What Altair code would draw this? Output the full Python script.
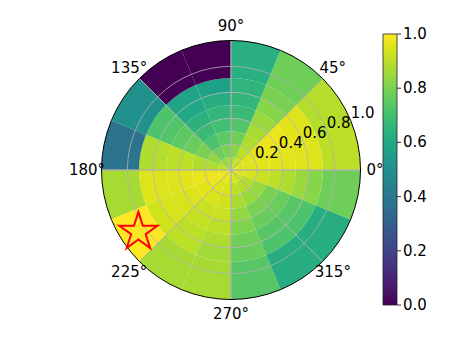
import math
import altair as alt
import pandas as pd

# ---- data ----
theta_edges = [0.0, 22.5, 45.0, 67.5, 90.0, 112.5, 135.0, 157.5, 180.0,
               202.5, 225.0, 247.5, 270.0, 292.5, 315.0, 337.5, 360.0]
r_edges = [0.0, 0.1, 0.2, 0.3, 0.4, 0.5, 0.6, 0.71, 1.0]

# values per ring (inner -> outer), 16 sectors counter-clockwise from 0 deg
ring_1 = [0.94, 0.94, 0.92, 0.88, 0.86, 0.84, 0.88, 0.90, 0.97, 0.98, 0.96, 0.95, 0.94, 0.93, 0.93, 0.95]
ring_2 = [0.95, 0.95, 0.90, 0.82, 0.80, 0.78, 0.84, 0.88, 0.97, 0.97, 0.95, 0.94, 0.90, 0.89, 0.89, 0.94]
ring_3 = [0.96, 0.96, 0.88, 0.78, 0.75, 0.72, 0.80, 0.88, 0.97, 0.96, 0.94, 0.93, 0.87, 0.85, 0.85, 0.92]
ring_4 = [0.96, 0.97, 0.87, 0.73, 0.70, 0.68, 0.77, 0.90, 0.96, 0.95, 0.92, 0.92, 0.84, 0.80, 0.80, 0.90]
ring_5 = [0.96, 0.97, 0.85, 0.68, 0.66, 0.64, 0.75, 0.90, 0.95, 0.94, 0.91, 0.90, 0.81, 0.77, 0.77, 0.88]
ring_6 = [0.95, 0.96, 0.82, 0.66, 0.62, 0.60, 0.73, 0.89, 0.95, 0.94, 0.90, 0.88, 0.78, 0.74, 0.74, 0.85]
ring_7 = [0.95, 0.95, 0.80, 0.65, 0.57, 0.58, 0.72, 0.88, 0.95, 0.93, 0.90, 0.86, 0.77, 0.72, 0.72, 0.82]
ring_8 = [0.90, 0.89, 0.78, 0.63, 0.00, 0.00, 0.50, 0.38, 0.87, 1.00, 0.87, 0.87, 0.74, 0.62, 0.62, 0.78]
rings = [ring_1, ring_2, ring_3, ring_4, ring_5, ring_6, ring_7, ring_8]

grid_r = [0.2, 0.4, 0.6, 0.8]
spine_r = [1.0]
spoke_deg = [0, 45, 90, 135, 180, 225, 270, 315]
angle_labels = ["0°", "45°", "90°", "135°", "180°", "225°", "270°", "315°"]
r_tick_values = [0.2, 0.4, 0.6, 0.8, 1.0]
r_tick_labels = ["0.2", "0.4", "0.6", "0.8", "1.0"]
r_label_deg = 22.5
cbar_ticks = [0.0, 0.2, 0.4, 0.6, 0.8, 1.0]
cbar_labels = ["0.0", "0.2", "0.4", "0.6", "0.8", "1.0"]
star_deg = [213.75]
star_r = [0.86]

# ---- tables ----
rows = []
for j, ring in enumerate(rings):
    for i, v in enumerate(ring):
        rows.append({"t0": theta_edges[i], "t1": theta_edges[i + 1],
                     "r0": r_edges[j], "r1": r_edges[j + 1], "v": v})
cells = pd.DataFrame(rows)

CX, CY, R = 223, 162, 129.5
LABEL_R = 1.112
FONT = "DejaVu Sans"
CB_X, CB_TOP, CB_LEN, CB_W = 375, 26, 271, 14

theta_scale = alt.Scale(domain=[0, 360], range=[2.5 * math.pi, 0.5 * math.pi])
radius_scale = alt.Scale(type="linear", domain=[0, 1], range=[0, R])
color_scale = alt.Scale(type="linear", scheme="viridis", domain=[0, 1])
cb_scale = alt.Scale(domain=[0, 1], range=[CB_TOP + CB_LEN, CB_TOP])
center = {"x": alt.value(CX), "y": alt.value(CY)}

cell_layer = alt.Chart(cells).mark_arc(strokeWidth=0).encode(
    theta=alt.Theta("t0:Q", scale=theta_scale, stack=False),
    theta2="t1:Q",
    radius=alt.Radius("r1:Q", scale=radius_scale, stack=False),
    radius2="r0:Q",
    color=alt.Color("v:Q", scale=color_scale, legend=alt.Legend(
        type="gradient",
        orient="none", legendX=CB_X, legendY=CB_TOP, direction="vertical",
        title=None, values=[],
        gradientLength=CB_LEN, gradientThickness=CB_W,
        gradientStrokeColor="#222", gradientStrokeWidth=0.8,
        labelOpacity=0, padding=0)),
    **center,
)

ring_df = pd.DataFrame({"r": grid_r, "t0": [0.0] * len(grid_r), "t1": [360.0] * len(grid_r)})
grid_layer = alt.Chart(ring_df).mark_arc(
    filled=False, stroke="#b0b0b0", strokeWidth=0.8
).encode(
    theta=alt.Theta("t0:Q", scale=theta_scale, stack=False),
    theta2="t1:Q",
    radius=alt.Radius("r:Q", scale=radius_scale, stack=False),
    **center,
)

spokes = pd.DataFrame({"a": spoke_deg, "r": [1.0] * len(spoke_deg)})
spoke_layer = alt.Chart(spokes).mark_arc(
    filled=False, stroke="#b0b0b0", strokeWidth=0.8
).encode(
    theta=alt.Theta("a:Q", scale=theta_scale, stack=False),
    theta2="a:Q",
    radius=alt.Radius("r:Q", scale=radius_scale, stack=False),
    **center,
)

spine_df = pd.DataFrame({"r": spine_r, "t0": [0.0], "t1": [360.0]})
spine_layer = alt.Chart(spine_df).mark_arc(
    filled=False, stroke="black", strokeWidth=1.0
).encode(
    theta=alt.Theta("t0:Q", scale=theta_scale, stack=False),
    theta2="t1:Q",
    radius=alt.Radius("r:Q", scale=radius_scale, stack=False),
    **center,
)

alab = pd.DataFrame({"a": spoke_deg, "label": angle_labels, "r": [LABEL_R] * len(spoke_deg)})
angle_text = alt.Chart(alab).mark_text(
    font=FONT, fontSize=15, color="black", align="center", baseline="middle"
).encode(
    theta=alt.Theta("a:Q", scale=theta_scale, stack=False),
    radius=alt.Radius("r:Q", scale=radius_scale, stack=False),
    text="label:N",
    **center,
)

rlab = pd.DataFrame({"a": [r_label_deg] * len(r_tick_values), "r": r_tick_values, "label": r_tick_labels})
r_text = alt.Chart(rlab).mark_text(
    font=FONT, fontSize=15, color="black", align="left", baseline="alphabetic", dy=-2
).encode(
    theta=alt.Theta("a:Q", scale=theta_scale, stack=False),
    radius=alt.Radius("r:Q", scale=radius_scale, stack=False),
    text="label:N",
    **center,
)

STAR = ("M0,-1L0.2245,-0.309L0.951,-0.309L0.363,0.118L0.588,0.809L0,0.382"
        "L-0.588,0.809L-0.363,0.118L-0.951,-0.309L-0.2245,-0.309Z")
star_layer = alt.Chart(pd.DataFrame({"deg": star_deg, "r": star_r})).transform_calculate(
    sx="datum.r * cos(datum.deg * PI / 180)",
    sy="datum.r * sin(datum.deg * PI / 180)",
).mark_point(shape=STAR, size=1600, filled=False, stroke="red", strokeWidth=2, opacity=1).encode(
    x=alt.X("sx:Q", scale=alt.Scale(domain=[-1, 1], range=[CX - R, CX + R]), axis=None),
    y=alt.Y("sy:Q", scale=alt.Scale(domain=[-1, 1], range=[CY + R, CY - R]), axis=None),
)

# colorbar tick marks and labels (right side of the gradient)
cb_df = pd.DataFrame({"t": cbar_ticks, "label": cbar_labels})
cb_tick_layer = alt.Chart(cb_df).mark_rule(color="black", strokeWidth=0.8).encode(
    y=alt.Y("t:Q", scale=cb_scale, axis=None),
    x=alt.value(CB_X + CB_W),
    x2=alt.value(CB_X + CB_W + 4),
)
cb_label_layer = alt.Chart(cb_df).mark_text(
    font=FONT, fontSize=15, color="black", align="left", baseline="middle"
).encode(
    y=alt.Y("t:Q", scale=cb_scale, axis=None),
    x=alt.value(CB_X + CB_W + 6),
    text="label:N",
)

chart = alt.layer(
    cell_layer, grid_layer, spoke_layer, spine_layer, angle_text, r_text, star_layer,
    cb_tick_layer, cb_label_layer
).resolve_scale(y="independent").properties(
    width=434, height=322, padding=0,
    autosize=alt.AutoSizeParams(type="none"),
).configure_view(stroke="transparent")

chart.save("out.html", embed_options={"renderer": "svg", "actions": False})
